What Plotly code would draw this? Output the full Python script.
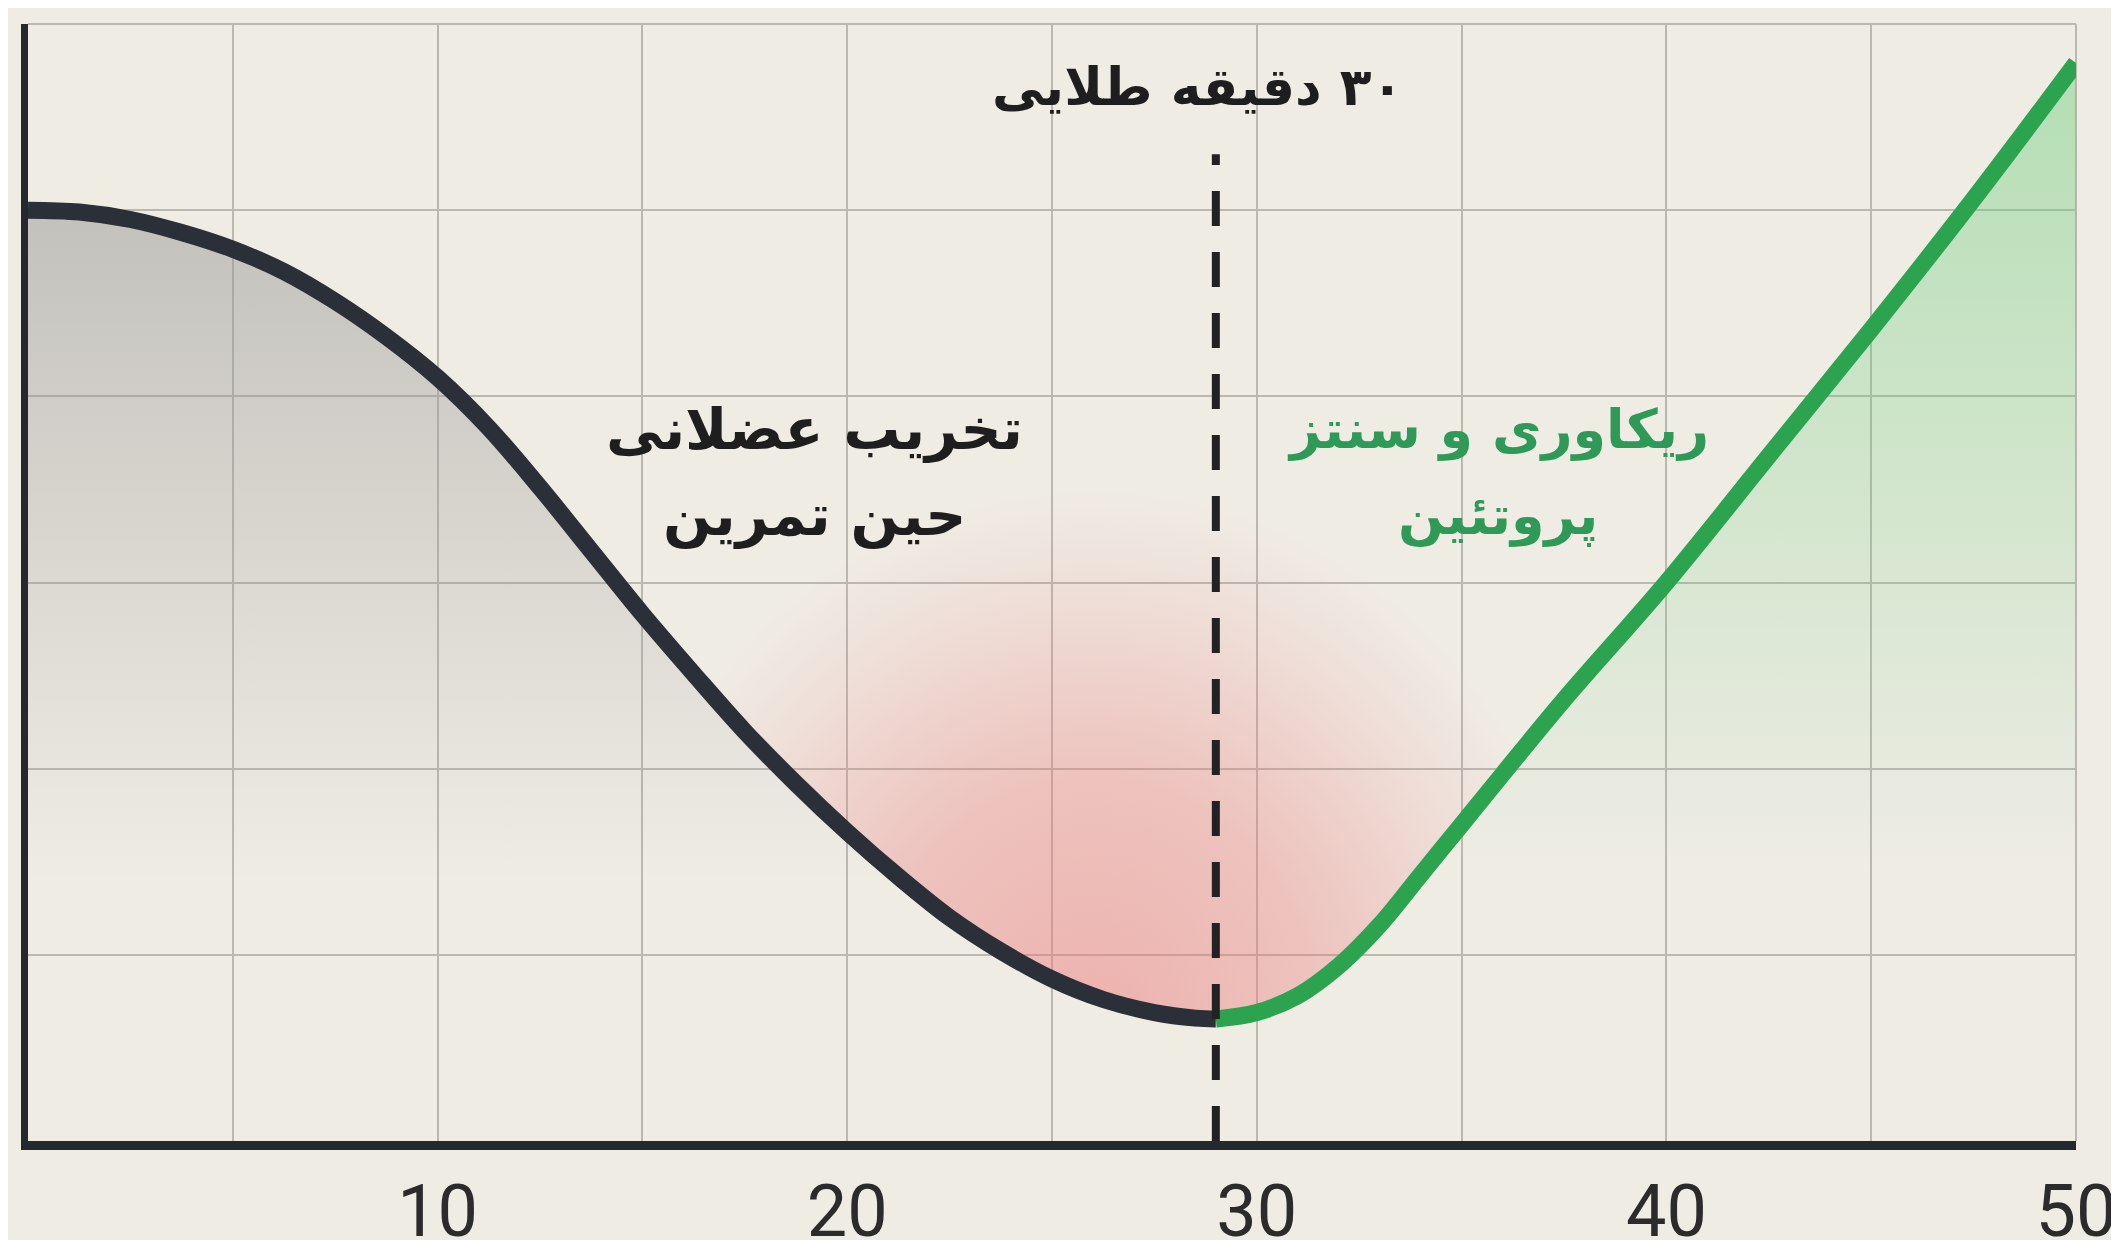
import plotly.graph_objects as go

# ---------------- data ----------------
decline_x = [0, 1.25, 2.5, 3.75, 5, 6.25, 7.5, 8.75, 10, 11.25, 12.5, 13.75, 15, 16.25,
             17.5, 18.75, 20, 21.25, 22.5, 23.75, 25, 26.25, 27.5, 28.5, 29]
decline_y = [5.0, 4.99, 4.95, 4.88, 4.79, 4.67, 4.51, 4.32, 4.10, 3.83, 3.51, 3.17, 2.83, 2.51,
             2.20, 1.92, 1.66, 1.42, 1.20, 1.02, 0.87, 0.76, 0.69, 0.66, 0.655]

recovery_x = [29, 30, 31, 32, 33, 34, 35, 36, 37.5, 40, 42.5, 45, 47.5, 50]
recovery_y = [0.655, 0.69, 0.78, 0.94, 1.16, 1.43, 1.70, 1.97, 2.37, 3.0, 3.68, 4.36, 5.06, 5.79]

golden_x = 29
golden_y = [0, 5.3]

x_tick_vals = [0, 5, 10, 15, 20, 25, 30, 35, 40, 45, 50]
x_tick_text = ["", "", "10", "", "20", "", "30", "", "40", "", "50"]
y_tick_vals = [1, 2, 3, 4, 5, 6]

RLM = "\u200f"
title_text = "۳۰ دقیقه طلایی"
left_lines = ["تخریب عضلانی", "حین تمرین"]
right_lines = ["ریکاوری و سنتز", "پروتئین"]

# ---------------- styles ----------------
BG = "#EFECE4"
GRID = "#bab8b1"
AXIS = "#25282d"
DARK_LINE = "#2b2f38"
GREEN_LINE = "#2ba34f"
GREEN_TEXT = "#2f9a57"
TEXT_DARK = "#1e1e1e"
PERSIAN_FONT = "DejaVu Sans"
LINE_W = 17

fig = go.Figure()

# gray shade under the decline curve
fig.add_trace(go.Scatter(
    x=decline_x, y=decline_y, mode="lines", line=dict(width=0, shape="spline"),
    fill="tozeroy",
    fillgradient=dict(type="vertical", start=1.4, stop=5.0,
                      colorscale=[[0, "rgba(150,150,146,0)"], [1, "rgba(150,150,146,0.5)"]]),
    hoverinfo="skip", showlegend=False))

# pink glow inside the valley (radial gradient; bbox centred on the trough)
pink_lo, pink_hi = 14, 38
pink_top = 3.5
trough_y = min(decline_y)
spike_bottom = trough_y - (pink_top - trough_y)
px, py = [pink_lo, pink_hi], [pink_top, pink_top]
px += [x for x in recovery_x if x <= pink_hi][::-1]
py += [y for x, y in zip(recovery_x, recovery_y) if x <= pink_hi][::-1]
px += [golden_x, golden_x]
py += [spike_bottom, trough_y]
px += [x for x in decline_x if pink_lo <= x < golden_x][::-1] + [pink_lo]
py += [y for x, y in zip(decline_x, decline_y) if pink_lo <= x < golden_x][::-1] + [pink_top]
fig.add_trace(go.Scatter(
    x=px, y=py, mode="lines", line=dict(width=0), fill="toself",
    fillgradient=dict(type="radial",
                      colorscale=[[0, "rgba(235,120,120,0.50)"], [0.45, "rgba(235,120,120,0.36)"],
                                  [0.8, "rgba(235,120,120,0.12)"], [1, "rgba(235,120,120,0)"]]),
    hoverinfo="skip", showlegend=False))

# green shade under the recovery curve
fig.add_trace(go.Scatter(
    x=recovery_x, y=recovery_y, mode="lines", line=dict(width=0, shape="spline"),
    fill="tozeroy",
    fillgradient=dict(type="vertical", start=1.4, stop=5.8,
                      colorscale=[[0, "rgba(105,205,120,0)"], [1, "rgba(105,205,120,0.45)"]]),
    hoverinfo="skip", showlegend=False))

# curves
fig.add_trace(go.Scatter(x=decline_x, y=decline_y, mode="lines",
                         line=dict(color=DARK_LINE, width=LINE_W, shape="spline"),
                         hoverinfo="skip", showlegend=False))
fig.add_trace(go.Scatter(x=recovery_x, y=recovery_y, mode="lines",
                         line=dict(color=GREEN_LINE, width=LINE_W, shape="spline"),
                         hoverinfo="skip", showlegend=False))

# dashed golden-window marker
fig.add_trace(go.Scatter(x=[golden_x, golden_x], y=golden_y, mode="lines",
                         line=dict(color="#222222", width=8, dash="35px,26px"),
                         hoverinfo="skip", showlegend=False))

# annotations
fig.add_annotation(x=28.55, y=5.66, text=RLM + title_text, showarrow=False,
                   xanchor="center", yanchor="middle",
                   font=dict(family=PERSIAN_FONT, size=52, color=TEXT_DARK, weight="bold"))
for txt, yy in zip(left_lines, [3.82, 3.36]):
    fig.add_annotation(x=19.2, y=yy, text=RLM + txt, showarrow=False, xanchor="center", yanchor="middle",
                       font=dict(family=PERSIAN_FONT, size=57, color=TEXT_DARK, weight="bold"))
for txt, yy in zip(right_lines, [3.82, 3.36]):
    fig.add_annotation(x=35.9, y=yy, text=RLM + txt, showarrow=False, xanchor="center", yanchor="middle",
                       font=dict(family=PERSIAN_FONT, size=54, color=GREEN_TEXT, weight="bold"))

# plot borders (top / right)
fig.add_shape(type="line", xref="paper", yref="paper", x0=0, x1=1, y0=1, y1=1,
              line=dict(color=GRID, width=2), layer="below")
fig.add_shape(type="line", xref="paper", yref="paper", x0=1, x1=1, y0=0, y1=1,
              line=dict(color=GRID, width=2), layer="below")

fig.update_layout(
    width=2119, height=1240,
    margin=dict(l=20, r=51, t=16, b=107),
    paper_bgcolor=BG, plot_bgcolor=BG,
    showlegend=False,
    xaxis=dict(range=[0, 50], tickmode="array", tickvals=x_tick_vals, ticktext=x_tick_text,
               showgrid=True, gridcolor=GRID, gridwidth=2, zeroline=False,
               showline=True, linecolor=AXIS, linewidth=9,
               ticks="",
               tickfont=dict(family="Roboto", size=72, color="#2b2b2b"),
               automargin=False, fixedrange=True),
    yaxis=dict(range=[0, 6], tickmode="array", tickvals=y_tick_vals, showticklabels=False,
               showgrid=True, gridcolor=GRID, gridwidth=2, zeroline=False,
               showline=True, linecolor=AXIS, linewidth=7, ticks="",
               automargin=False, fixedrange=True),
)

fig.write_html("out.html")
